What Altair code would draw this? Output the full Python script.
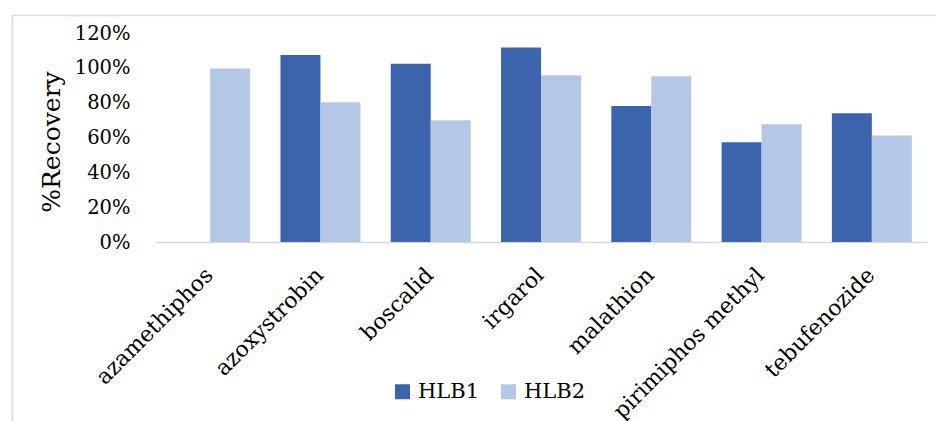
import altair as alt
import pandas as pd

compounds = ["azamethiphos", "azoxystrobin", "boscalid", "irgarol",
             "malathion", "pirimiphos methyl", "tebufenozide"]
hlb1 = [None, 1.073, 1.024, 1.117, 0.781, 0.573, 0.739]
hlb2 = [0.996, 0.802, 0.699, 0.957, 0.951, 0.676, 0.611]
series = ["HLB1", "HLB2"]
colors = ["#3C64AC", "#B4C7E7"]
y_ticks = [0, 0.2, 0.4, 0.6, 0.8, 1.0, 1.2]

rows = []
for c, a, b in zip(compounds, hlb1, hlb2):
    if a is not None:
        rows.append({"compound": c, "series": "HLB1", "value": a})
    if b is not None:
        rows.append({"compound": c, "series": "HLB2", "value": b})
df = pd.DataFrame(rows)

FONT = "DejaVu Serif"
PAD_L, PAD_T = 155, 33
W, H = 772, 209

bars = alt.Chart(df).mark_bar().encode(
    x=alt.X("compound:N", sort=compounds,
            scale=alt.Scale(paddingInner=0.275, paddingOuter=0.1375),
            axis=alt.Axis(title=None, labelAngle=-45, ticks=False,
                          domainColor="#D9D9D9", domainWidth=1.5,
                          labelFont=FONT, labelFontSize=22, labelColor="#000000",
                          labelPadding=22, labelLimit=400, labelOffset=-8)),
    xOffset=alt.XOffset("series:N", sort=series),
    y=alt.Y("value:Q",
            scale=alt.Scale(domain=[0, 1.2], nice=False),
            axis=alt.Axis(title="%Recovery", values=y_ticks, format=".0%",
                          domain=False, ticks=False, grid=False,
                          labelFont=FONT, labelFontSize=19.5, labelColor="#000000",
                          labelPadding=25,
                          titleFont=FONT, titleFontSize=25, titleFontWeight="normal",
                          titleColor="#000000", titleX=-104, titleY=H / 2 + 4,
                          titleAlign="center", titleBaseline="middle", titleAngle=-90)),
    color=alt.Color("series:N", sort=series,
                    scale=alt.Scale(domain=series, range=colors),
                    legend=alt.Legend(orient="none", legendX=237, legendY=348,
                                      direction="horizontal", title=None,
                                      symbolType="square", symbolSize=225,
                                      symbolStrokeWidth=0, labelFont=FONT,
                                      labelFontSize=21, labelColor="#000000",
                                      columnPadding=18, labelOffset=5, padding=0)),
)

frame_df = pd.DataFrame({"k": [0]})
top_line = alt.Chart(frame_df).mark_rule(color="#D9D9D9", strokeWidth=1.5).encode(
    x=alt.value(12 - PAD_L), x2=alt.value(936 - PAD_L), y=alt.value(15.5 - PAD_T))
left_line = alt.Chart(frame_df).mark_rule(color="#D9D9D9", strokeWidth=1.5).encode(
    x=alt.value(12.5 - PAD_L), y=alt.value(15.5 - PAD_T), y2=alt.value(421 - PAD_T))

chart = alt.layer(bars, top_line, left_line).properties(
    width=W, height=H,
    autosize=alt.AutoSizeParams(type="none"),
    padding={"left": PAD_L, "top": PAD_T, "right": 936 - PAD_L - W, "bottom": 421 - PAD_T - H},
    background="white",
).configure_view(stroke=None)

chart.save("out.html", embed_options={"renderer": "svg", "actions": False})
